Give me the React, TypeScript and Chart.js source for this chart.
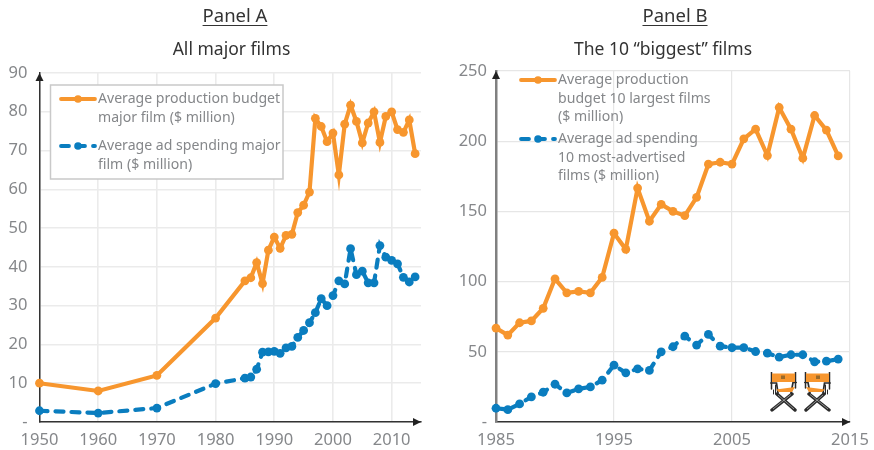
import React, { useEffect, useRef } from "react";
import { Chart, registerables } from "chart.js";

Chart.register(...registerables);

const FONT = "'Noto Sans', sans-serif";
const ORANGE = "#F7962E";
const BLUE = "#0A7DBF";
const GREY = "#85878A";

const yearsA = [1950, 1960, 1970, 1980, 1985, 1986, 1987, 1988, 1989, 1990, 1991, 1992, 1993, 1994, 1995, 1996, 1997, 1998, 1999, 2000, 2001, 2002, 2003, 2004, 2005, 2006, 2007, 2008, 2009, 2010, 2011, 2012, 2013, 2014];
const budgetA = [10, 8, 12, 26.8, 36.4, 37.2, 41.1, 35.7, 44.3, 47.7, 44.8, 48.1, 48.4, 54, 55.9, 59.3, 78.3, 76.2, 72.3, 74.5, 63.7, 76.8, 81.7, 77.5, 72, 77.1, 80, 72.1, 78.8, 80, 75.4, 74.7, 77.9, 69.2];
const adA = [2.9, 2.3, 3.6, 9.9, 11.3, 11.6, 13.6, 18, 18.1, 18.2, 17.7, 19.1, 19.5, 21.8, 23.6, 25.6, 28.2, 31.8, 30, 32.6, 36.4, 35.6, 44.7, 38, 38.9, 35.9, 35.9, 45.5, 42.5, 41.7, 40.8, 37.3, 36.1, 37.4];

const yearsB = [1985, 1986, 1987, 1988, 1989, 1990, 1991, 1992, 1993, 1994, 1995, 1996, 1997, 1998, 1999, 2000, 2001, 2002, 2003, 2004, 2005, 2006, 2007, 2008, 2009, 2010, 2011, 2012, 2013, 2014];
const budgetB = [66.9, 61.9, 70.7, 72, 81, 102, 92, 93, 92, 103, 134.5, 123, 166.6, 143, 155, 150, 147, 160, 183.6, 185, 183.7, 201.7, 208.6, 189.8, 224, 208.6, 187.9, 218.3, 207.9, 189.5];
const adB = [9.8, 8.8, 12.9, 17.9, 21.2, 26.9, 20.7, 23.6, 25, 29.8, 40.5, 35, 37.9, 36.7, 50, 53.6, 61.2, 54.8, 62.4, 54, 52.9, 53, 50.2, 49, 46.2, 47.9, 47.9, 42.9, 43.3, 44.8];

const labelsA = [["Average production budget", "major film ($ million)"], ["Average ad spending major", "film ($ million)"]];
const labelsB = [["Average production", "budget 10 largest films", "($ million)"], ["Average ad spending", "10 most-advertised", "films ($ million)"]];

const DASH = [8, 8];

const panelDecor = {
  id: "panelDecor",
  afterLayout(chart: any, _a: any, o: any) {
    // centre the title on its own x position rather than on the padded box
    if (chart.titleBlock) {
      chart.titleBlock.left = o.titleCenter - 150;
      chart.titleBlock.right = o.titleCenter + 150;
    }
  },
  afterDatasetsDraw(chart: any, _a: any, o: any) {
    const { ctx, chartArea: ca } = chart;
    ctx.save();
    ctx.fillStyle = "#222";
    ctx.beginPath();
    ctx.moveTo(ca.left, ca.top);
    ctx.lineTo(ca.left - 4, ca.top + 8);
    ctx.lineTo(ca.left + 4, ca.top + 8);
    ctx.fill();
    ctx.beginPath();
    ctx.moveTo(ca.right, ca.bottom);
    ctx.lineTo(ca.right - 8, ca.bottom - 4);
    ctx.lineTo(ca.right - 8, ca.bottom + 4);
    ctx.fill();
    if (o.box) {
      ctx.fillStyle = "#fff";
      ctx.strokeStyle = "#c9c9c9";
      ctx.lineWidth = 1.5;
      ctx.fillRect(o.box[0], o.box[1], o.box[2], o.box[3]);
      ctx.strokeRect(o.box[0], o.box[1], o.box[2], o.box[3]);
    }
    chart.data.datasets.forEach((ds: any, i: number) => {
      const y0 = o.rows[i];
      ctx.strokeStyle = ds.borderColor;
      ctx.fillStyle = ds.borderColor;
      ctx.lineWidth = 3.8;
      ctx.lineCap = "round";
      ctx.setLineDash(ds.borderDash || []);
      ctx.beginPath();
      ctx.moveTo(o.x + 1, y0);
      ctx.lineTo(o.x + 35, y0);
      ctx.stroke();
      ctx.setLineDash([]);
      ctx.beginPath();
      ctx.arc(o.x + 18, y0, 3.8, 0, Math.PI * 2);
      ctx.fill();
      ctx.fillStyle = GREY;
      ctx.font = `14.1px ${FONT}`;
      ctx.textBaseline = "middle";
      ctx.textAlign = "left";
      o.labels[i].forEach((line: string, k: number) => ctx.fillText(line, o.x + 38, y0 + k * 18.7));
    });
    ctx.restore();
  },
};

function makeConfig(p: any): any {
  const line = (label: string, years: number[], vals: number[], color: string, dash?: number[]) => ({
    label,
    data: years.map((x, i) => ({ x, y: vals[i] })),
    borderColor: color,
    backgroundColor: color,
    pointBackgroundColor: color,
    pointBorderColor: color,
    borderWidth: 4.2,
    borderDash: dash || [],
    borderCapStyle: dash ? "round" : "butt",
    pointRadius: 4.4,
    pointBorderWidth: 0,
    tension: 0,
    clip: false,
  });
  const tickFont = { family: FONT, size: 16.5 };
  return {
    type: "line",
    data: {
      datasets: [
        line(p.labels[0].join(" "), p.years, p.budget, ORANGE),
        line(p.labels[1].join(" "), p.years, p.ad, BLUE, DASH),
      ],
    },
    plugins: [panelDecor],
    options: {
      animation: false,
      responsive: false,
      layout: { autoPadding: false, padding: { left: 0, right: p.padRight, top: 0, bottom: 0 } },
      plugins: {
        legend: { display: false },
        tooltip: { enabled: false },
        title: {
          display: true,
          text: p.title,
          color: "#333",
          font: { family: FONT, size: 17.5, weight: "normal", lineHeight: 1.2 },
          padding: { top: p.titleTop, bottom: p.titleBottom },
        },
        panelDecor: { rows: p.rows, x: p.legendX, labels: p.labels, box: p.box, titleCenter: p.titleCenter },
      },
      scales: {
        x: {
          type: "linear",
          min: p.xMin,
          max: 2015,
          afterFit: (s: any) => {
            s.height = 28;
            s.paddingLeft = 0;
            s.paddingRight = 0;
          },
          grid: { color: p.gridColor, lineWidth: p.gridWidth, drawTicks: false },
          border: { display: true, color: "#333", width: 1.5 },
          ticks: {
            stepSize: 10,
            includeBounds: false,
            autoSkip: false,
            maxRotation: 0,
            padding: 8,
            color: GREY,
            font: tickFont,
            callback: (v: any) => String(v),
          },
        },
        y: {
          min: 0,
          max: p.yMax,
          afterFit: (s: any) => { s.width = p.axisLeft; },
          grid: { color: p.gridColor, lineWidth: p.gridWidth, drawTicks: false },
          border: { display: true, color: p.yAxisColor, width: p.yAxisWidth },
          ticks: {
            stepSize: p.yStep,
            padding: p.yPad,
            color: GREY,
            font: tickFont,
            callback: (v: any) => (v === 0 ? "-" : String(v)),
          },
        },
      },
    },
  };
}

const panelA = {
  title: "All major films",
  titleCenter: 231.5,
  labels: labelsA,
  years: yearsA,
  budget: budgetA,
  ad: adA,
  xMin: 1950,
  yMax: 90,
  yStep: 10,
  axisLeft: 39.5,
  padRight: 42,
  titleTop: 40,
  titleBottom: 12,
  gridColor: "#ebebeb",
  gridWidth: 1.6,
  yAxisColor: "#333",
  yAxisWidth: 1.5,
  yPad: 12,
  rows: [99, 146],
  legendX: 60,
  box: [50.5, 85, 232.5, 94],
};

const panelB = {
  title: "The 10 “biggest” films",
  titleCenter: 211,
  labels: labelsB,
  years: yearsB,
  budget: budgetB,
  ad: adB,
  xMin: 1985,
  yMax: 250,
  yStep: 50,
  axisLeft: 44,
  padRight: 24,
  titleTop: 40,
  titleBottom: 10,
  gridColor: "#e6e6e6",
  gridWidth: 1.2,
  yAxisColor: "#808080",
  yAxisWidth: 2.5,
  yPad: 9,
  rows: [80, 139],
  legendX: 68,
  box: null,
};

function ChartCanvas({ panel, left, width }: any) {
  const ref = useRef<HTMLCanvasElement>(null);
  useEffect(() => {
    const chart = new Chart(ref.current as HTMLCanvasElement, makeConfig(panel));
    return () => chart.destroy();
  }, [panel]);
  return <canvas ref={ref} width={width} height={450} style={{ position: "absolute", left, top: 0, width, height: 450 }} />;
}

function DirectorChair({ left, flip }: { left: number; flip?: boolean }) {
  return (
    <svg width={27} height={41} viewBox="0 0 27 41" style={{ position: "absolute", left, top: 372, transform: flip ? "scaleX(-1)" : undefined }}>
      <g stroke="#2b2b2b" fill="none" strokeLinecap="round">
        <path d="M1.5 0V17M25.5 0V16" strokeWidth={1.5} />
        <path d="M0.8 11H6.5L8 21M26.2 10.5H23L21 21" strokeWidth={1.7} />
        <path d="M3.5 18V22M5.5 13V22" strokeWidth={1} />
        <path d="M2 38L22 22M25 38L7 22" strokeWidth={3.4} />
      </g>
      <path d="M3 37L21 22.5M24 37L8 23" stroke="#bbb" strokeWidth={0.7} fill="none" />
      <rect x={2} y={1.5} width={23} height={8.5} fill={ORANGE} />
      <path d="M6 17.5L25 15L22 20H9Z" fill={ORANGE} />
      <rect x={11} y={3.5} width={4} height={3.5} fill="#9a6a2a" />
    </svg>
  );
}

const headStyle: React.CSSProperties = {
  position: "absolute",
  top: 2,
  fontFamily: FONT,
  fontSize: 18.5,
  lineHeight: "26px",
  color: "#333",
  textDecoration: "underline",
  textUnderlineOffset: 3,
  whiteSpace: "nowrap",
  transform: "translateX(-50%)",
};

export default function App() {
  return (
    <div style={{ position: "absolute", left: 0, top: 0, width: 874, height: 450, background: "#fff", overflow: "hidden" }}>
      <ChartCanvas panel={panelA} left={0} width={463} />
      <ChartCanvas panel={panelB} left={452} width={422} />
      <div style={{ ...headStyle, left: 235 }}>Panel A</div>
      <div style={{ ...headStyle, left: 675 }}>Panel B</div>
      <DirectorChair left={770} />
      <DirectorChair left={804} flip />
    </div>
  );
}
